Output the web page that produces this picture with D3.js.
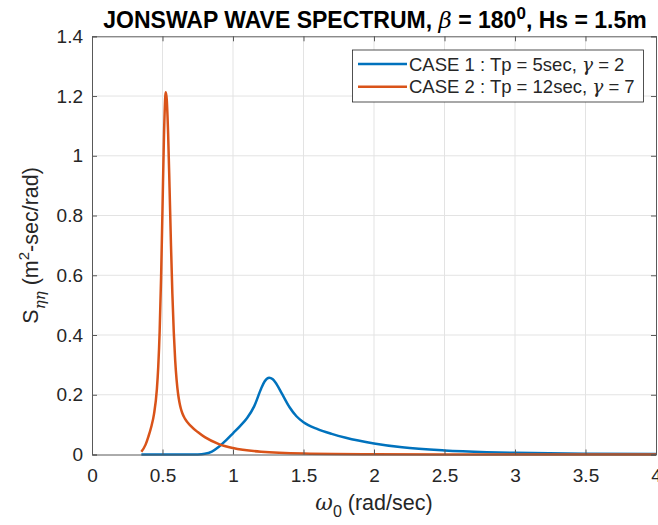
<!DOCTYPE html>
<html>
<head>
<meta charset="utf-8">
<script src="https://cdn.jsdelivr.net/npm/d3@7"></script>
<style>
body { margin: 0; background: #fff; }
text { font-family: "Liberation Sans", Arial, Helvetica, sans-serif; fill: #262626; }
</style>
</head>
<body>
<div id="vis"></div>
<script>
var w = 658,
    h = 525;

// omega (rad/sec) and spectrum values
var omega1 = [0.35, 0.70, 0.75, 0.80, 0.85, 0.90, 0.95, 1.00, 1.05, 1.10, 1.15, 1.20, 1.225, 1.2566, 1.28, 1.30, 1.35, 1.40, 1.45, 1.50, 1.60, 1.70, 1.80, 2.00, 2.20, 2.50, 2.80, 3.00, 3.50, 4.00];
var case1 = [0, 0, 0.0004, 0.0025, 0.010, 0.026, 0.047, 0.071, 0.095, 0.122, 0.161, 0.221, 0.245, 0.257, 0.2525, 0.242, 0.201, 0.159, 0.128, 0.108, 0.085, 0.069, 0.056, 0.037, 0.024, 0.0135, 0.0079, 0.0057, 0.0027, 0.0014];

var omega2 = [0.35, 0.38, 0.40, 0.42, 0.44, 0.46, 0.47, 0.48, 0.49, 0.50, 0.51, 0.52, 0.5236, 0.53, 0.54, 0.55, 0.56, 0.57, 0.58, 0.59, 0.60, 0.61, 0.62, 0.63, 0.64, 0.66, 0.70, 0.75, 0.80, 0.90, 1.00, 1.20, 1.50, 2.00, 2.50, 3.00, 4.00];
var case2 = [0.009, 0.033, 0.060, 0.092, 0.136, 0.218, 0.295, 0.415, 0.593, 0.823, 1.058, 1.200, 1.213, 1.189, 1.072, 0.894, 0.704, 0.538, 0.409, 0.315, 0.250, 0.205, 0.175, 0.154, 0.139, 0.119, 0.096, 0.075, 0.058, 0.035, 0.0217, 0.0091, 0.0031, 0.0007, 0.0002, 0.0001, 0];

var xTicks = [0, 0.5, 1, 1.5, 2, 2.5, 3, 3.5, 4];
var yTicks = [0, 0.2, 0.4, 0.6, 0.8, 1, 1.2, 1.4];
var seriesNames = ["CASE 1 : Tp = 5sec, ", "CASE 2 : Tp = 12sec, "];
var gammas = ["2", "7"];
var colors = ["#0072bd", "#d95319"];

var pl = 92, pr = 656, pt = 36.3, pb = 454.5;

var x = d3.scaleLinear().domain([0, 4]).range([pl, pr]);
var y = d3.scaleLinear().domain([0, 1.4]).range([pb, pt]);

var svg = d3.select("#vis").append("svg")
    .attr("width", w)
    .attr("height", h);

// grid
svg.append("g").selectAll("line.gx")
    .data(xTicks.slice(1, -1))
    .enter().append("line")
    .attr("x1", function(d){ return x(d); })
    .attr("x2", function(d){ return x(d); })
    .attr("y1", pt).attr("y2", pb)
    .style("stroke", "#e3e3e3").style("stroke-width", 1);
svg.append("g").selectAll("line.gy")
    .data(yTicks.slice(1, -1))
    .enter().append("line")
    .attr("y1", function(d){ return y(d); })
    .attr("y2", function(d){ return y(d); })
    .attr("x1", pl).attr("x2", pr)
    .style("stroke", "#e3e3e3").style("stroke-width", 1);

// curves
var line = d3.line()
    .x(function(d){ return x(d[0]); })
    .y(function(d){ return y(d[1]); })
    .curve(d3.curveMonotoneX);

var series = [d3.zip(omega1, case1), d3.zip(omega2, case2)];
svg.append("g").selectAll("path.curve")
    .data(series)
    .enter().append("path")
    .attr("class", "curve")
    .attr("d", line)
    .style("fill", "none")
    .style("stroke", function(d, i){ return colors[i]; })
    .style("stroke-width", 2.5)
    .style("stroke-linejoin", "round");

// axes (ticks inward, box on)
var tk = 5;
var xb = svg.append("g").attr("transform", "translate(0," + pb + ")")
    .call(d3.axisBottom(x).tickValues(xTicks).tickSize(-tk).tickPadding(14).tickFormat(d3.format("")));
var xt = svg.append("g").attr("transform", "translate(0," + pt + ")")
    .call(d3.axisTop(x).tickValues(xTicks).tickSize(-tk).tickFormat(""));
var yl = svg.append("g").attr("transform", "translate(" + pl + ",0)")
    .call(d3.axisLeft(y).tickValues(yTicks).tickSize(-tk).tickPadding(9).tickFormat(d3.format("")));
var yr = svg.append("g").attr("transform", "translate(" + pr + ",0)")
    .call(d3.axisRight(y).tickValues(yTicks).tickSize(-tk).tickFormat(""));

[xb, xt, yl, yr].forEach(function(g){
    g.selectAll("path.domain").style("stroke", "#595959").style("stroke-width", 1);
    g.selectAll(".tick line").style("stroke", "#595959");
    g.selectAll(".tick text").style("font-size", "19px").style("fill", "#262626")
        .style("font-family", '"Liberation Sans", Arial, sans-serif');
});

// title
var title = svg.append("text")
    .attr("x", (pl + pr) / 2 + 1).attr("y", 28)
    .attr("text-anchor", "middle")
    .style("font-size", "23px").style("font-weight", "bold").style("fill", "#000");
title.append("tspan").text("JONSWAP WAVE SPECTRUM, ");
title.append("tspan").text("β").style("font-style", "italic").style("font-weight", "normal")
    .style("font-family", '"DejaVu Serif", serif');
title.append("tspan").text(" = 180");
title.append("tspan").text("0").attr("dy", -9).style("font-size", "17px");
title.append("tspan").text(", Hs = 1.5m").attr("dy", 9);

// x label
var xlab = svg.append("text")
    .attr("x", (pl + pr) / 2).attr("y", 510)
    .attr("text-anchor", "middle")
    .style("font-size", "21.5px");
xlab.append("tspan").text("ω").style("font-style", "italic").style("font-family", '"DejaVu Serif", serif');
xlab.append("tspan").text("0").attr("dy", 7).style("font-size", "16px");
xlab.append("tspan").text(" (rad/sec)").attr("dy", -7);

// y label
var ylab = svg.append("text")
    .attr("transform", "translate(38," + ((pt + pb) / 2) + ") rotate(-90)")
    .attr("text-anchor", "middle")
    .style("font-size", "21.5px");
ylab.append("tspan").text("S");
ylab.append("tspan").text("ηη").attr("dy", 7).style("font-size", "15px").style("font-style", "italic")
    .style("font-family", '"DejaVu Serif", serif');
ylab.append("tspan").text(" (m").attr("dy", -7);
ylab.append("tspan").text("2").attr("dy", -9).style("font-size", "15px");
ylab.append("tspan").text("-sec/rad)").attr("dy", 9);

// legend
var lg = svg.append("g");
lg.append("rect")
    .attr("x", 352.5).attr("y", 50)
    .attr("width", 291).attr("height", 52)
    .style("fill", "#fff").style("stroke", "#262626").style("stroke-width", 0.8);
var items = lg.selectAll("g.item")
    .data(seriesNames)
    .enter().append("g")
    .attr("transform", function(d, i){ return "translate(0," + (64 + i * 22.7) + ")"; });
items.append("line")
    .attr("x1", 358).attr("x2", 407)
    .style("stroke", function(d, i){ return colors[i]; })
    .style("stroke-width", 2.5);
var it = items.append("text")
    .attr("x", 409).attr("y", 6.5)
    .style("font-size", "18.5px");
it.append("tspan").text(function(d){ return d; });
it.append("tspan").text("γ").style("font-style", "italic").style("font-family", '"DejaVu Serif", serif');
it.append("tspan").text(function(d, i){ return " = " + gammas[i]; });
</script>
</body>
</html>
